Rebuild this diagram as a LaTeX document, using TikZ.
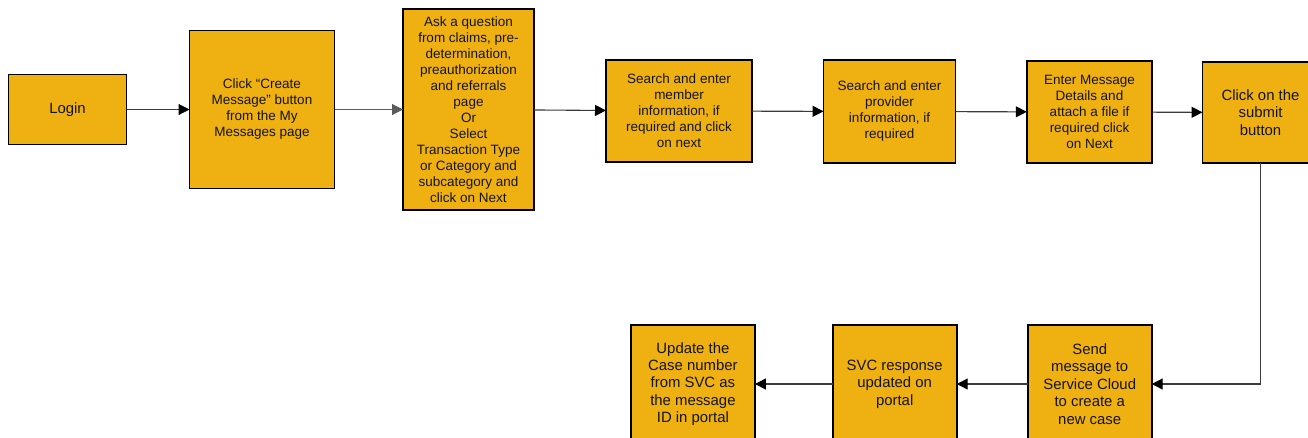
\documentclass[tikz,border=0pt]{standalone}
\usepackage{fontspec}
\setmainfont{Liberation Sans}
\usetikzlibrary{arrows.meta}
\definecolor{boxfill}{HTML}{EEB111}
\definecolor{linegray}{HTML}{3A3A3A}
\definecolor{lightgray2}{HTML}{5A5A5A}
\tikzset{
  stepbox/.style={draw=black, line width=1.6pt, fill=boxfill, rectangle, align=center, inner sep=0pt, outer sep=0pt, text=black!92},
  small/.style={font=\fontsize{13.5}{16}\selectfont},
  large/.style={font=\fontsize{14.9}{17.4}\selectfont},
  conn/.style={draw=linegray, line width=1.1pt, -{Triangle[length=11pt,width=11pt,color=black,fill=black]}},
}
\begin{document}
\begin{tikzpicture}[x=1pt,y=-1pt]
\useasboundingbox (0,0) rectangle (1308,437);
\clip (0,0) rectangle (1308,437);
\fill[white] (0,0) rectangle (1308,437);
% top row
\node[stepbox, large, minimum width=118pt, minimum height=70pt] (login) at (67.5,109.5) {Login};
\node[stepbox, small, minimum width=145pt, minimum height=158pt] (create) at (262,109.5) {Click “Create\\Message” button\\from the My\\Messages page};
\node[stepbox, small, minimum width=131pt, minimum height=201pt] (ask) at (468.5,109.5) {Ask a question\\from claims, pre-\\determination,\\preauthorization\\and referrals\\page\\Or\\Select\\Transaction Type\\or Category and\\subcategory and\\click on Next};
\node[stepbox, small, minimum width=146pt, minimum height=102pt] (member) at (679,111) {Search and enter\\member\\information, if\\required and click\\on next};
\node[stepbox, small, minimum width=132pt, minimum height=103pt] (provider) at (889.5,111.5) {Search and enter\\provider\\information, if\\required};
\node[stepbox, small, minimum width=125.5pt, minimum height=102pt] (enter) at (1089.5,112) {Enter Message\\Details and\\attach a file if\\required click\\on Next};
\node[stepbox, large, minimum width=116pt, minimum height=101pt] (submit) at (1260.5,112.5) {Click on the\\submit\\button};
% bottom row
\node[stepbox, large, minimum width=124pt, minimum height=118pt] (send) at (1089.7,384) {Send\\message to\\Service Cloud\\to create a\\new case};
\node[stepbox, large, minimum width=124pt, minimum height=118pt] (svc) at (894.7,384) {SVC response\\updated on\\portal};
\node[stepbox, large, minimum width=124pt, minimum height=118pt] (update) at (692.9,384) {Update the\\Case number\\from SVC as\\the message\\ID in portal};
% connectors
\draw[conn] (login) -- (create);
\draw[draw=lightgray2, line width=1.1pt, -{Triangle[length=11pt,width=11pt,color=lightgray2,fill=lightgray2]}] (create) -- (ask);
\draw[conn] (ask) -- (member);
\draw[conn] (member) -- (provider);
\draw[conn] (provider) -- (enter);
\draw[conn] (enter) -- (submit);
\draw[conn] (submit.south) |- (send.east);
\draw[conn] (send) -- (svc);
\draw[conn] (svc) -- (update);
\end{tikzpicture}
\end{document}
